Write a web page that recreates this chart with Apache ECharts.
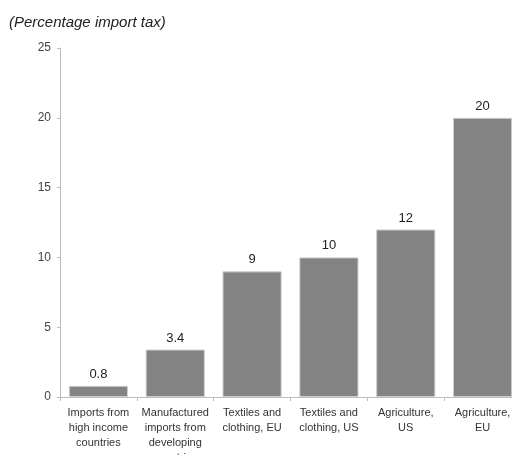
<!DOCTYPE html>
<html>
<head>
<meta charset="utf-8">
<script src="https://cdn.jsdelivr.net/npm/echarts@6/dist/echarts.min.js"></script>
<style>
  html, body { margin: 0; padding: 0; background: #fff; }
  #chart { width: 512px; height: 455px; }
</style>
</head>
<body>
<div id="chart"></div>
<script>
// Import tax by product group
const categories = [
  'Imports from\nhigh income\ncountries',
  'Manufactured\nimports from\ndeveloping\ncountries',
  'Textiles and\nclothing, EU',
  'Textiles and\nclothing, US',
  'Agriculture,\nUS',
  'Agriculture,\nEU'
];
const taxRates = [0.8, 3.4, 9, 10, 12, 20];
const valueLabels = ['0.8', '3.4', '9', '10', '12', '20'];
const yTicks = [0, 5, 10, 15, 20, 25];

const sans = '"Liberation Sans", Arial, sans-serif';

const chart = echarts.init(document.getElementById('chart'), null, { renderer: 'canvas' });
chart.setOption({
  animation: false,
  title: {
    text: '(Percentage import tax)',
    left: 9,
    top: 15,
    padding: 0,
    textStyle: {
      fontFamily: sans,
      fontStyle: 'italic',
      fontWeight: 'normal',
      fontSize: 15,
      color: '#222'
    }
  },
  grid: {
    left: 60, top: 48, width: 461, height: 349,
    containLabel: false,
    outerBoundsMode: 'none'
  },
  xAxis: {
    type: 'category',
    data: categories,
    axisLine: { lineStyle: { color: '#bdbdbd', width: 1 } },
    axisTick: { show: true, alignWithLabel: false, length: 4, lineStyle: { color: '#bdbdbd' } },
    axisLabel: {
      interval: 0,
      margin: 8,
      fontFamily: sans,
      fontSize: 11,
      lineHeight: 15,
      color: '#333'
    }
  },
  yAxis: {
    type: 'value',
    min: yTicks[0],
    max: yTicks[yTicks.length - 1],
    interval: 5,
    splitLine: { show: false },
    axisLine: { show: true, lineStyle: { color: '#bdbdbd', width: 1 } },
    axisTick: { show: true, length: 3, lineStyle: { color: '#bdbdbd' } },
    axisLabel: {
      margin: 9,
      fontFamily: sans,
      fontSize: 12,
      color: '#444'
    }
  },
  series: [{
    type: 'bar',
    data: taxRates,
    barCategoryGap: '23%',
    itemStyle: { color: '#838383', borderColor: '#cfcfcf', borderWidth: 1 },
    label: {
      show: true,
      position: 'top',
      distance: 5,
      fontFamily: sans,
      fontSize: 13,
      color: '#222',
      formatter: p => valueLabels[p.dataIndex]
    }
  }]
});
</script>
</body>
</html>
